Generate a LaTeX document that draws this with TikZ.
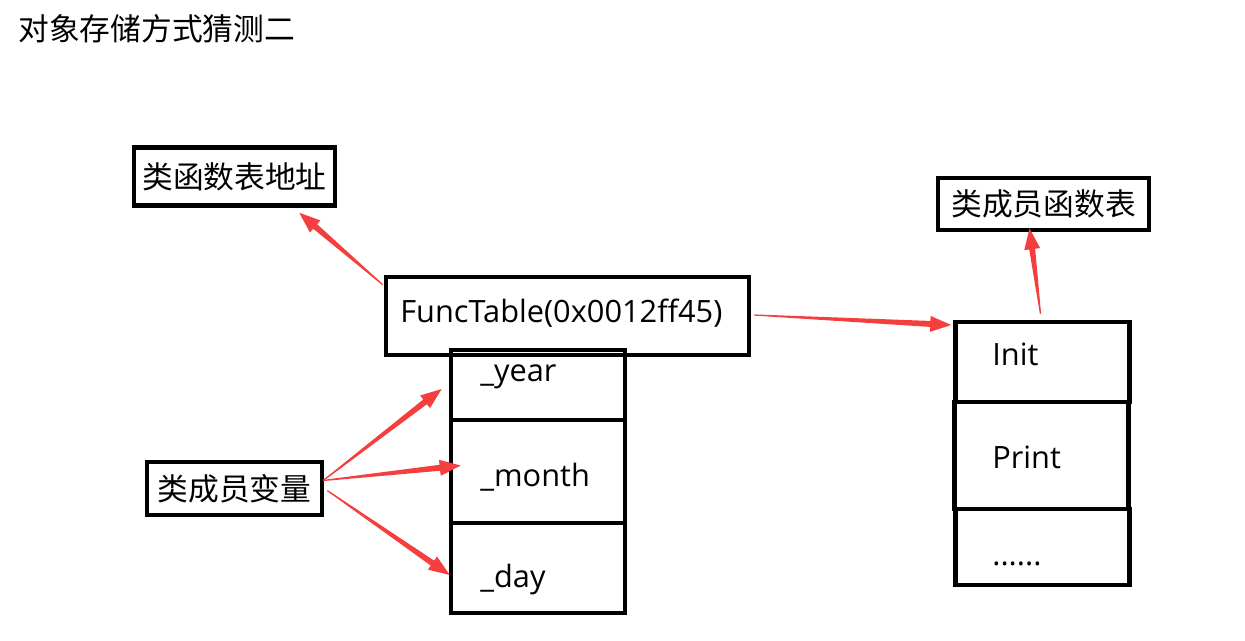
\documentclass[tikz,border=0pt]{standalone}
\usepackage{fontspec}
\setmainfont{Open Sans}
\newfontfamily\cjk{Noto Sans CJK SC}
\usetikzlibrary{calc}

\definecolor{arrred}{RGB}{245,62,62}

% tapered red arrow, thin at the start, wide head at the tip
\newcommand{\redarrow}[2]{%
    \coordinate (tb) at ($(#2)!0.42cm!(#1)$);
    \fill[arrred] (#1)
        -- ($(#1)!0.012cm!90:(#2)$)
        -- ($(tb)!0.06cm!90:(#2)$)
        -- ($(tb)!0.16cm!90:(#2)$)
        -- (#2)
        -- ($(tb)!0.16cm!-90:(#2)$)
        -- ($(tb)!0.06cm!-90:(#2)$)
        -- ($(#1)!0.012cm!-90:(#2)$)
        -- cycle;}

\begin{document}
\begin{tikzpicture}[x=0.02cm, y=-0.02cm,
    box/.style={
        draw,
        line width=2.6pt,
        inner sep=0pt,
        font=\cjk\fontsize{17.5}{20}\selectfont
    },
    cell/.style={
        draw,
        line width=2.6pt,
        inner sep=0pt,
        minimum width=3.48cm
    },
    txt/.style={
        anchor=west,
        inner sep=0pt,
        font=\fontsize{17.5}{20}\selectfont
    }
]
\useasboundingbox (0,0) rectangle (1245,641);

%%%%%%%%%%%%%%%%%%%%%%%%
% Titulo
%%%%%%%%%%%%%%%%%%%%%%%%

\node[anchor=west, inner sep=0pt, font=\cjk\fontsize{17.5}{20}\selectfont] (title) at (18,29) {对象存储方式猜测二};

%%%%%%%%%%%%%%%%%%%%%%%%
% Objeto
%%%%%%%%%%%%%%%%%%%%%%%%

% --- Labels ---
\node[box, minimum width=4.02cm, minimum height=1.16cm] (addr) at (234.5,176.5) {类函数表地址};
\node[box, minimum width=3.5cm, minimum height=1.06cm] (vars) at (234.5,488.5) {类成员变量};

% --- FuncTable ---
\node[box, minimum width=7.26cm, minimum height=1.56cm] (ft) at (567.5,316) {};
\node[txt] (ftt) at (400,313) {FuncTable(0x0012ff45)};

% --- Members ---
\node[cell, minimum height=1.4cm] (yr) at (538,385) {};
\node[cell, minimum height=2.06cm] (mo) at (538,471.5) {};
\node[cell, minimum height=1.8cm] (dy) at (538,568) {};
\node[txt] (yrt) at (480,377) {\_year};
\node[txt] (mot) at (480,477) {\_month};
\node[txt] (dyt) at (480,580) {\_day};

%%%%%%%%%%%%%%%%%%%%%%%%
% Tabla de funciones
%%%%%%%%%%%%%%%%%%%%%%%%

\node[box, minimum width=4.22cm, minimum height=1.04cm] (mfun) at (1043.5,204) {类成员函数表};

\node[cell, minimum height=1.6cm] (in) at (1042.5,362) {};
\node[cell, minimum height=2.14cm] (pr) at (1041.5,455.5) {};
\node[cell, minimum height=1.52cm] (dt) at (1042.5,547) {};
\node[txt] (int) at (992,354) {Init};
\node[txt] (prt) at (992,457) {Print};
\node[txt] (dtt) at (992,564) {......};

%%%%%%%%%%%%%%%%%%%%%%%%
% Flechas
%%%%%%%%%%%%%%%%%%%%%%%%

\coordinate (a1s) at ($(ft.north west)+(-1,10)$);
\coordinate (a1e) at ($(addr.south east)+(-38,5)$);
\coordinate (a2s) at ($(ft.east)+(3,-1)$);
\coordinate (a2e) at ($(in.west)+(-2,-37)$);
\coordinate (a3s) at ($(in.north)+(-2,-6)$);
\coordinate (a3e) at ($(mfun.south)+(-14,-4)$);
\coordinate (vs) at ($(vars.east)+(-1,-8)$);
\coordinate (vs2) at ($(vars.east)+(3,2)$);
\coordinate (yre) at ($(yr.west)+(-7,4)$);
\coordinate (moe) at ($(mo.west)+(12,-6)$);
\coordinate (dye) at ($(dy.west)+(1,7)$);

\redarrow{a1s}{a1e}
\redarrow{a2s}{a2e}
\redarrow{a3s}{a3e}
\redarrow{vs}{yre}
\redarrow{vs}{moe}
\redarrow{vs2}{dye}

\end{tikzpicture}
\end{document}
